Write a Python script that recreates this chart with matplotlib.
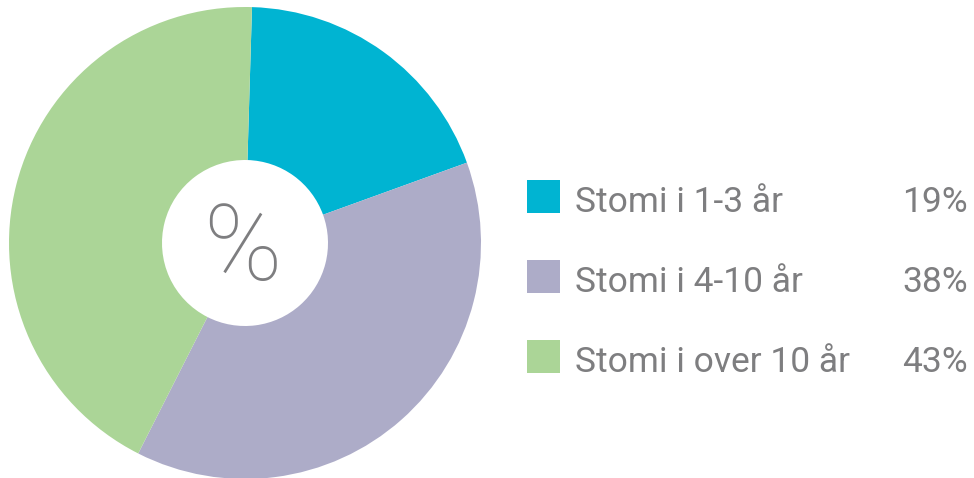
import matplotlib.pyplot as plt
from matplotlib.patches import Rectangle

labels = ['Stomi i 1-3 år', 'Stomi i 4-10 år', 'Stomi i over 10 år']
values = [19, 38, 43]
colors = ['#00B4D2', '#ADACC8', '#ABD597']
grey = '#7E7E80'

plt.rcParams['font.family'] = ['Roboto', 'DejaVu Sans']

fig = plt.figure(figsize=(9.74, 4.78), dpi=100)
ax = fig.add_axes([0, 0, 1, 1])

# donut, drawn clockwise from just right of the top
ax.pie(values, colors=colors, center=(245, 235), radius=236,
       startangle=88.3, counterclock=False,
       wedgeprops=dict(width=236 - 83, linewidth=0), frame=True)
ax.set_xlim(0, 974)
ax.set_ylim(0, 478)
ax.set_aspect('equal')
ax.axis('off')

ax.text(242, 478 - 251, '%', fontsize=76, color=grey, ha='center',
        va='center', fontweight='light')

# legend rows
for i, (lab, v, c) in enumerate(zip(labels, values, colors)):
    ytop = 478 - 180 - i * 80
    ax.add_patch(Rectangle((527, ytop - 33), 33, 33, color=c, lw=0))
    base = 478 - 212 - i * 80
    ax.text(575, base, lab, fontsize=25.5, color=grey, va='baseline')
    ax.text(968, base, f'{v}%', fontsize=25.5, color=grey, va='baseline',
            ha='right')

plt.savefig('out.png', dpi=100)
